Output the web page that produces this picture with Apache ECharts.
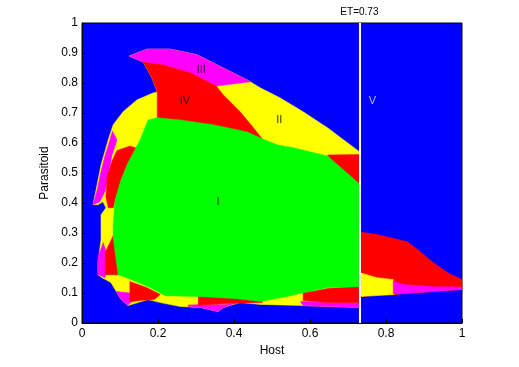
<!DOCTYPE html>
<html>
<head>
<meta charset="utf-8">
<script src="https://cdn.jsdelivr.net/npm/echarts@6/dist/echarts.min.js"></script>
<style>
  html, body { margin: 0; background: #fff; }
  #main { width: 519px; height: 367px; }
</style>
</head>
<body>
<div id="main"></div>
<script>
// region outlines as (host, parasitoid) pairs
var envelope = [[0.124,0.890],[0.171,0.913],[0.232,0.913],[0.303,0.894],[0.372,0.850],[0.435,0.810],[0.469,0.784],[0.522,0.750],[0.582,0.704],[0.646,0.651],[0.73,0.571],
  [0.73,0.052],[0.582,0.058],[0.469,0.062],[0.416,0.068],[0.372,0.052],[0.358,0.038],[0.311,0.052],[0.258,0.055],[0.206,0.068],[0.174,0.078],[0.121,0.058],[0.103,0.078],
  [0.076,0.135],[0.053,0.151],[0.042,0.161],[0.042,0.201],[0.050,0.278],[0.050,0.361],[0.063,0.384],[0.055,0.404],[0.042,0.394],[0.029,0.394],[0.037,0.444],
  [0.050,0.527],[0.069,0.611],[0.082,0.661],[0.108,0.704],[0.145,0.744],[0.187,0.767],[0.198,0.770],[0.184,0.817],[0.161,0.870]];
var regionIII = [[0.124,0.890],[0.171,0.913],[0.232,0.913],[0.303,0.894],[0.372,0.850],[0.435,0.810],[0.443,0.804],[0.353,0.790],[0.285,0.834],[0.213,0.860],[0.161,0.870]];
var regionIV = [[0.161,0.870],[0.213,0.860],[0.285,0.834],[0.353,0.790],[0.372,0.760],[0.416,0.704],[0.451,0.651],[0.474,0.614],[0.435,0.630],[0.345,0.655],[0.258,0.670],[0.198,0.680],[0.198,0.770],[0.184,0.817]];
var magentaLeft = [[0.080,0.640],[0.071,0.600],[0.061,0.560],[0.050,0.505],[0.040,0.444],[0.029,0.394],[0.047,0.404],[0.061,0.440],[0.069,0.494],[0.079,0.560],[0.092,0.610]];
var redLeft = [[0.092,0.575],[0.126,0.590],[0.150,0.580],[0.121,0.534],[0.103,0.478],[0.090,0.420],[0.082,0.384],[0.069,0.384],[0.063,0.420],[0.066,0.487],[0.079,0.540]];
var magentaLow = [[0.056,0.268],[0.042,0.220],[0.042,0.161],[0.061,0.151],[0.063,0.240]];
var redLow = [[0.082,0.291],[0.061,0.235],[0.061,0.161],[0.100,0.161],[0.100,0.290]];
var redFoot = [[0.126,0.138],[0.170,0.118],[0.206,0.095],[0.190,0.078],[0.150,0.075],[0.126,0.070]];
var magentaFoot = [[0.090,0.105],[0.126,0.100],[0.130,0.072],[0.121,0.058],[0.103,0.078]];
var redBase = [[0.306,0.088],[0.400,0.088],[0.469,0.078],[0.475,0.068],[0.400,0.066],[0.306,0.060]];
var magentaBase = [[0.279,0.060],[0.330,0.062],[0.380,0.062],[0.410,0.068],[0.372,0.052],[0.358,0.038],[0.311,0.052],[0.279,0.055]];
var redEdge = [[0.582,0.101],[0.609,0.106],[0.646,0.115],[0.73,0.122],[0.73,0.068],[0.646,0.068],[0.582,0.075]];
var magentaEdge = [[0.575,0.072],[0.650,0.068],[0.73,0.068],[0.73,0.052],[0.646,0.055],[0.582,0.058]];
var redCorner = [[0.646,0.560],[0.73,0.562],[0.73,0.40]];
var regionI = [[0.198,0.684],[0.258,0.677],[0.345,0.661],[0.435,0.637],[0.474,0.614],[0.514,0.594],[0.556,0.584],[0.646,0.557],[0.73,0.464],
  [0.73,0.121],[0.646,0.118],[0.582,0.101],[0.540,0.088],[0.469,0.072],[0.408,0.081],[0.311,0.088],[0.219,0.091],[0.179,0.118],[0.129,0.145],[0.095,0.161],
  [0.087,0.235],[0.082,0.288],[0.082,0.328],[0.087,0.411],[0.103,0.478],[0.121,0.534],[0.142,0.584],[0.153,0.611],[0.174,0.677]];
var redRight = [[0.73,0.304],[0.777,0.295],[0.856,0.271],[0.883,0.245],[0.925,0.201],[0.962,0.168],[1,0.145],[1,0.112],[0.925,0.105],[0.825,0.095],[0.73,0.088]];
var yellowRight = [[0.73,0.168],[0.777,0.151],[0.819,0.145],[0.822,0.095],[0.73,0.088]];
var magentaRight = [[0.819,0.140],[0.846,0.128],[0.925,0.121],[0.978,0.121],[1,0.118],[1,0.112],[0.925,0.105],[0.825,0.097],[0.819,0.097]];

var regionNames = ['I', 'II', 'III', 'IV', 'V'];
var regionSpots = [[0.358,0.404],[0.519,0.677],[0.314,0.844],[0.271,0.740],[0.764,0.740]];
var threshold = 0.73;

var chart = echarts.init(document.getElementById('main'));

// drawing order: later layers cover earlier ones
var layers = [
  { pts: envelope, color: '#ffff00' },
  { pts: regionIII, color: '#ff00ff' },
  { pts: magentaLeft, color: '#ff00ff' },
  { pts: magentaLow, color: '#ff00ff' },
  { pts: magentaFoot, color: '#ff00ff' },
  { pts: magentaBase, color: '#ff00ff' },
  { pts: magentaEdge, color: '#ff00ff' },
  { pts: regionIV, color: '#ff0000' },
  { pts: redLeft, color: '#ff0000' },
  { pts: redLow, color: '#ff0000' },
  { pts: redFoot, color: '#ff0000' },
  { pts: redBase, color: '#ff0000' },
  { pts: redEdge, color: '#ff0000' },
  { pts: redCorner, color: '#ff0000' },
  { pts: regionI, color: '#00ff00' },
  { pts: redRight, color: '#ff0000' },
  { pts: yellowRight, color: '#ffff00' },
  { pts: magentaRight, color: '#ff00ff' }
];

var font = 'Liberation Sans, Arial, sans-serif';

var option = {
  animation: false,
  grid: {
    left: 82, right: 57, top: 23, bottom: 44,
    show: true, backgroundColor: '#0000ff', borderColor: '#000', borderWidth: 1
  },
  xAxis: {
    type: 'value', min: 0, max: 1, interval: 0.2,
    name: 'Host', nameLocation: 'middle', nameGap: 19,
    nameTextStyle: { fontFamily: font, fontSize: 12, color: '#000' },
    axisLine: { lineStyle: { color: '#000' } },
    axisTick: { inside: true, length: 4, lineStyle: { color: '#000' } },
    axisLabel: { fontFamily: font, fontSize: 12, color: '#000', margin: 5 },
    splitLine: { show: false }
  },
  yAxis: {
    type: 'value', min: 0, max: 1, interval: 0.1,
    name: 'Parasitoid', nameLocation: 'middle', nameGap: 19,
    nameTextStyle: { fontFamily: font, fontSize: 12, color: '#000' },
    axisLine: { lineStyle: { color: '#000' } },
    axisTick: { inside: true, length: 4, lineStyle: { color: '#000' } },
    axisLabel: { fontFamily: font, fontSize: 12, color: '#000', margin: 4 },
    splitLine: { show: false }
  },
  series: [
    {
      type: 'custom',
      coordinateSystem: 'cartesian2d',
      data: layers.map(function (l) { return l.pts[0]; }),
      renderItem: function (params, api) {
        var layer = layers[params.dataIndex];
        var pts = layer.pts.map(function (p) { return api.coord(p); });
        return {
          type: 'polygon',
          shape: { points: pts },
          style: { fill: layer.color, stroke: layer.color, lineWidth: 0.5 }
        };
      },
      markLine: {
        symbol: 'none', silent: true,
        lineStyle: { color: '#fff', width: 2, type: 'solid' },
        label: { show: true, position: 'end', formatter: 'ET=' + threshold, fontFamily: font, fontSize: 10, color: '#000', distance: 6 },
        data: [[{ coord: [threshold, 0] }, { coord: [threshold, 1] }]]
      }
    },
    {
      type: 'scatter',
      symbolSize: 0,
      data: regionSpots.map(function (p, i) {
        return { name: regionNames[i], value: p, label: { color: regionNames[i] === 'V' ? '#d8e4ff' : '#000' } };
      }),
      label: { show: true, position: 'inside', formatter: '{b}', fontFamily: font, fontSize: 11 }
    }
  ]
};

chart.setOption(option);
</script>
</body>
</html>
